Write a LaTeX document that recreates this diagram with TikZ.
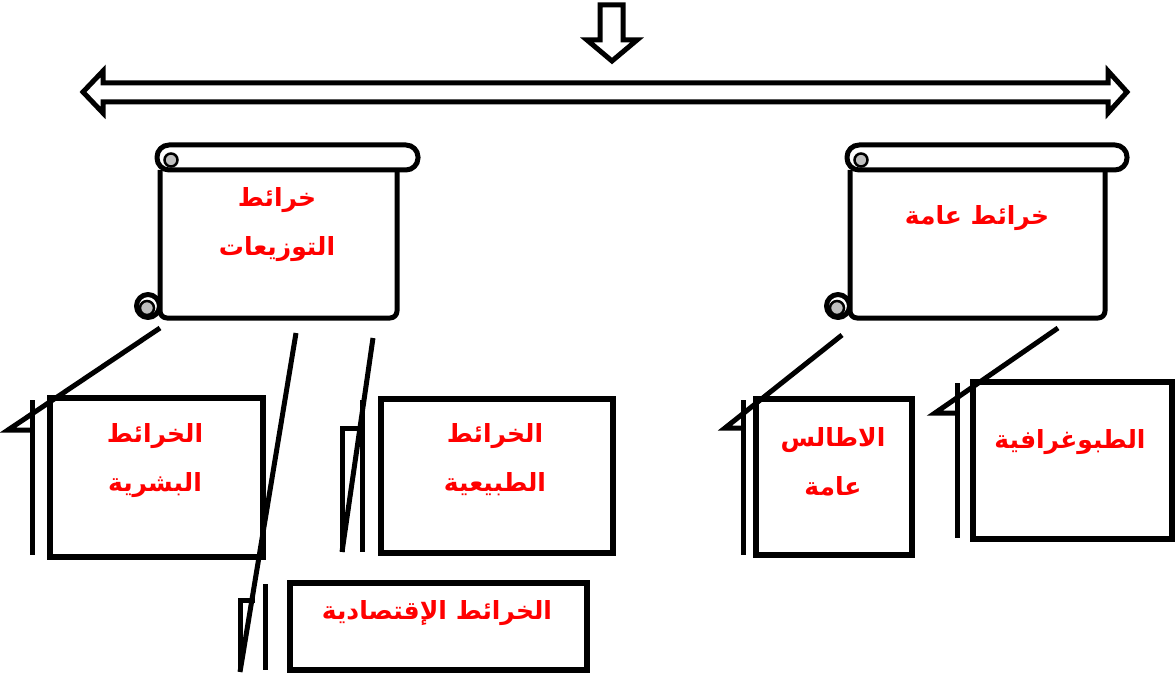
\documentclass[tikz,border=0pt]{standalone}
\usepackage{fontspec}
\newfontfamily\arabicfont[Script=Arabic]{DejaVu Sans}
\TeXXeTstate=1
\usepackage{tikz}

\tikzset{
  blockarrow/.style={draw=black,line width=5pt,fill=white,line join=miter},
  scrollpart/.style={draw=black,line width=5pt,fill=white,line join=round},
  curl/.style={draw=black,line width=2.5pt,fill=black!25},
  mapbox/.style={draw=black,line width=5.5pt,fill=white,inner sep=0pt},
  brokenline/.style={draw=black,line width=5pt,line join=miter},
  maplabel/.style={text=red,align=center,inner sep=0pt,
    font=\arabicfont\bfseries\fontsize{25}{49}\selectfont},
}

\begin{document}
\begin{tikzpicture}[x=1pt,y=-1pt]
\useasboundingbox (0,0) rectangle (1176,674);
%%
  % Arrow: down
  \draw[blockarrow] (600,5) -- (623,5) -- (623,40) -- (637,40) -- (612,61)
    -- (587,40) -- (600,40) -- cycle;
  % Arrow: left -- right
  \draw[blockarrow] (83,92) -- (103,71) -- (103,83) -- (1108,83) -- (1108,71)
    -- (1127,92) -- (1108,113) -- (1108,102) -- (103,102) -- (103,113) -- cycle;
%%
  % Scroll: distributions
  \draw[scrollpart,rounded corners=7pt] (160,170) -- (160,318) -- (397,318) -- (397,170);
  \draw[scrollpart,rounded corners=12pt] (157,145) rectangle (418,170);
  \draw[curl] (171,160) circle (6.5);
  \draw[scrollpart] (148,306) circle (11.5);
  \draw[curl] (147,308) circle (7);
  \node[maplabel] (distrib) at (277,225) {\beginR خرائط\endR\\\beginR التوزيعات\endR};
  % Scroll: general
  \draw[scrollpart,rounded corners=7pt] (850,170) -- (850,318) -- (1105,318) -- (1105,170);
  \draw[scrollpart,rounded corners=12pt] (847,145) rectangle (1127,170);
  \draw[curl] (861,160) circle (6.5);
  \draw[scrollpart] (838,306) circle (11.5);
  \draw[curl] (837,308) circle (7);
  \node[maplabel] (general) at (977,218) {\beginR خرائط عامة\endR};
%%
  % Node: human
  \node[mapbox,minimum width=213pt,minimum height=159pt] (human) at (156.5,477.5) {};
  \node[maplabel] (humantxt) at (155,461) {\beginR الخرائط\endR\\\beginR البشرية\endR};
  % Node: natural
  \node[mapbox,minimum width=232pt,minimum height=154pt] (natural) at (497,476) {};
  \node[maplabel] (naturaltxt) at (495,460) {\beginR الخرائط\endR\\\beginR الطبيعية\endR};
  % Node: economic
  \node[mapbox,minimum width=297pt,minimum height=87pt] (economic) at (438.5,626.5) {};
  \node[maplabel] (economictxt) at (437,613) {\beginR الخرائط الإقتصادية\endR};
  % Node: atlas
  \node[mapbox,minimum width=156pt,minimum height=156pt] (atlas) at (834,477) {};
  \node[maplabel] (atlastxt) at (833,462) {\beginR الاطالس\endR\\\beginR عامة\endR};
  % Node: topo
  \node[mapbox,minimum width=199pt,minimum height=157pt] (topo) at (1072.5,460.5) {};
  \node[maplabel] (topotxt) at (1070,442) {\beginR الطبوغرافية\endR};
%%
  % Edge: distrib -- human
  \coordinate (hA) at (160,328); \coordinate (hB) at (8,430); \coordinate (hC) at (32,430);
  \draw[brokenline] (hA) -- (hB) -- (hC);
  \draw[brokenline] (32,400) -- (32,555);
  % Edge: distrib -- economic
  \coordinate (eA) at (296,333); \coordinate (eB) at (240,672);
  \draw[brokenline] (eA) -- (eB);
  \draw[brokenline] (240,670) -- (240,600) -- (255,600);
  \draw[brokenline] (265,584) -- (265,670);
  % Edge: distrib -- natural
  \coordinate (nA) at (373,338); \coordinate (nB) at (342,552); \coordinate (nC) at (362,428);
  \draw[brokenline] (nA) -- (nB);
  \draw[brokenline] (nB) -- (342,428) -- (nC);
  \draw[brokenline] (362,400) -- (362,552);
  % Edge: general -- atlas
  \coordinate (aA) at (842,335); \coordinate (aB) at (725,428); \coordinate (aC) at (741,428);
  \draw[brokenline] (aA) -- (aB) -- (aC);
  \draw[brokenline] (743,400) -- (743,555);
  % Edge: general -- topo
  \coordinate (tA) at (1058,328); \coordinate (tB) at (935,413); \coordinate (tC) at (955,413);
  \draw[brokenline] (tA) -- (tB) -- (tC);
  \draw[brokenline] (957,383) -- (957,538);
%
\end{tikzpicture}
\end{document}
